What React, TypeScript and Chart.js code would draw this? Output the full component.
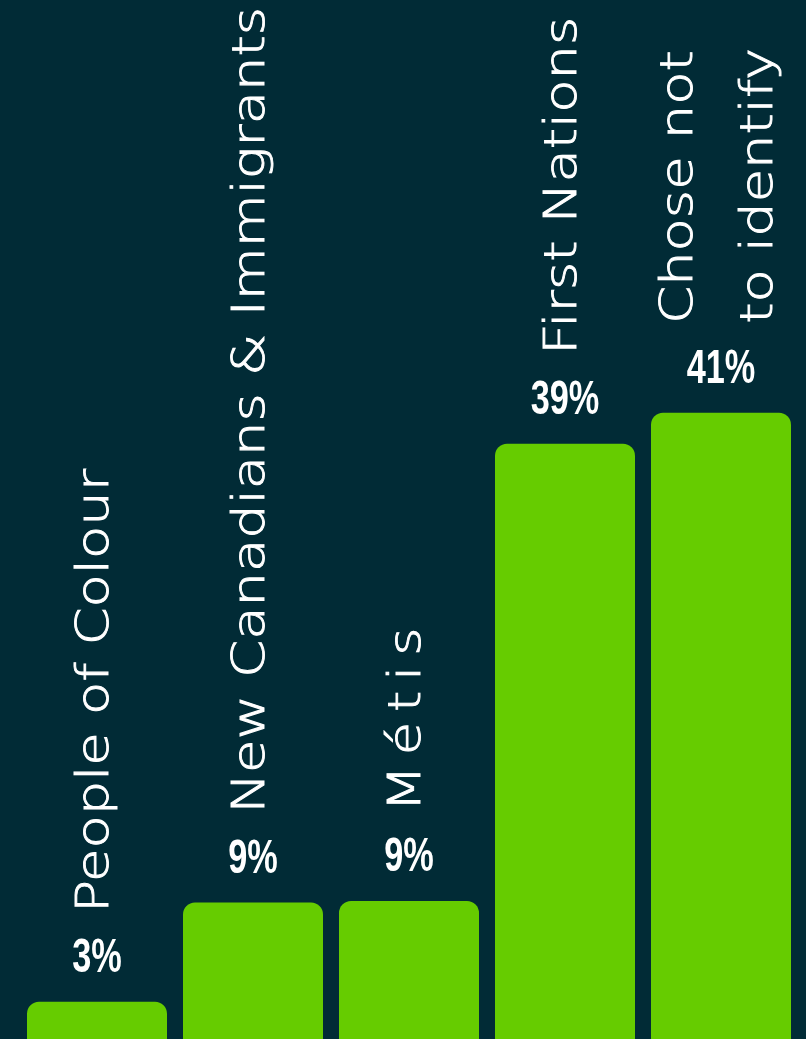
import React, { useEffect, useRef } from "react";
import { Chart, registerables } from "chart.js";

Chart.register(...registerables);

const categories: (string | string[])[] = [
  "People of Colour",
  "New Canadians & Immigrants",
  "Métis",
  "First Nations",
  ["Chose not", "to identify"],
];
const values = [3, 9.4, 9.5, 39, 41];
const valueLabels = ["3%", "9%", "9%", "39%", "41%"];
const labelSpacing = [0, 0, 8, 0, 0];

const BG = "#012b36";
const BAR = "#66cc00";

const labelPlugin = {
  id: "barLabels",
  afterDatasetsDraw(chart: any) {
    const ctx = chart.ctx as CanvasRenderingContext2D;
    const meta = chart.getDatasetMeta(0);
    meta.data.forEach((bar: any, i: number) => {
      const x = bar.x;
      const top = bar.y;
      // value label
      ctx.save();
      ctx.fillStyle = "#ffffff";
      ctx.font = "bold 49px 'Liberation Sans Narrow', 'Liberation Sans', sans-serif";
      ctx.textAlign = "center";
      ctx.textBaseline = "alphabetic";
      ctx.translate(x, top - 30);
      ctx.scale(0.7, 1);
      ctx.fillText(valueLabels[i], 0, 0);
      ctx.restore();

      // category label rotated
      const cat = categories[i];
      const lines = Array.isArray(cat) ? cat : [cat];
      ctx.save();
      ctx.fillStyle = "#ffffff";
      ctx.strokeStyle = "#ffffff";
      ctx.lineWidth = 0.9;
      ctx.font = "200 44px 'DejaVu Sans', sans-serif";
      (ctx as any).letterSpacing = labelSpacing[i] + "px";
      ctx.textAlign = "left";
      ctx.textBaseline = "middle";
      ctx.translate(x, top - 89);
      ctx.rotate(-Math.PI / 2);
      ctx.scale(1.235, 1);
      const lh = 80;
      lines.forEach((ln, j) => {
        const off = (j - (lines.length - 1) / 2) * lh;
        ctx.fillText(ln, 0, off);
        ctx.strokeText(ln, 0, off);
      });
      ctx.restore();
    });
  },
};

export default function App() {
  const ref = useRef<HTMLCanvasElement>(null);
  useEffect(() => {
    if (!ref.current) return;
    const chart = new Chart(ref.current, {
      type: "bar",
      data: {
        labels: categories as any,
        datasets: [
          {
            data: values,
            backgroundColor: BAR,
            borderRadius: { topLeft: 12, topRight: 12, bottomLeft: 0, bottomRight: 0 },
            borderSkipped: false,
            barPercentage: 140 / 156,
            categoryPercentage: 1,
          },
        ],
      },
      options: {
        responsive: true,
        maintainAspectRatio: false,
        animation: false,
        layout: { padding: { left: 19, right: 7, top: 0, bottom: 0 } },
        plugins: { legend: { display: false }, tooltip: { enabled: false } },
        scales: {
          x: { display: false },
          y: { display: false, min: 0.6, max: 67.63 },
        },
      },
      plugins: [labelPlugin],
    });
    return () => chart.destroy();
  }, []);
  return (
    <div style={{ position: "fixed", left: 0, top: 0, width: 806, height: 1039, background: BG }}>
      <canvas ref={ref} />
    </div>
  );
}
